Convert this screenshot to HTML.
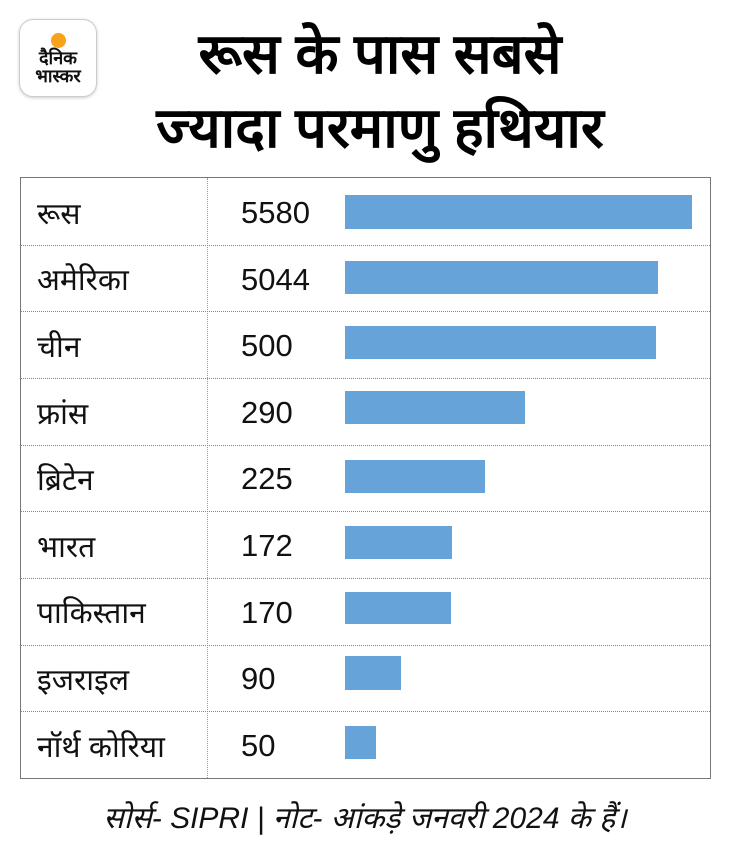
<!DOCTYPE html>
<html><head><meta charset="utf-8"><style>
body{margin:0;width:730px;height:850px;background:#fff;position:relative;overflow:hidden;font-family:"Liberation Sans","Noto Sans CJK SC",sans-serif;}
.logo{position:absolute;left:19px;top:19px;width:76px;height:76px;border:1px solid #ccc;border-radius:14px;box-shadow:0 1px 3px rgba(0,0,0,.2);background:#fff;}
.logo .sun{position:absolute;left:31px;top:13px;width:15px;height:15px;border-radius:50%;background:#f7a21b;}
.logo .t{position:absolute;left:0;width:76px;top:29px;text-align:center;font-weight:bold;font-size:18px;line-height:18px;color:#111;}
.title{position:absolute;left:100px;width:560px;text-align:center;font-weight:bold;font-size:56px;line-height:64px;color:#000;}
.tbl{position:absolute;left:20px;top:177px;width:689px;height:600px;border:1.5px solid #777;}
.vl{position:absolute;left:186px;top:0;height:100%;border-left:1px dotted #999;}
.hl{position:absolute;left:0;width:100%;border-top:1px dotted #888;}
.c{position:absolute;left:16px;font-size:30px;line-height:36px;color:#111;}
.n{position:absolute;left:220px;font-size:31px;line-height:36px;color:#111;}
.bar{position:absolute;left:324px;background:#66a3d9;}
.foot{position:absolute;left:0;width:730px;top:796px;text-align:center;font-style:italic;font-size:30px;color:#111;}
</style></head><body>
<div class="logo"><div class="sun"></div><div class="t">दैनिक<br>भास्कर</div></div>
<div class="title" style="top:22px">रूस के पास सबसे</div>
<div class="title" style="top:96px">ज्यादा परमाणु हथियार</div>
<div class="tbl">
<div class="vl"></div>
<div class="hl" style="top:66.7px"></div><div class="hl" style="top:133.4px"></div><div class="hl" style="top:200px"></div><div class="hl" style="top:266.7px"></div><div class="hl" style="top:333.4px"></div><div class="hl" style="top:400px"></div><div class="hl" style="top:466.7px"></div><div class="hl" style="top:533.4px"></div>
<div class="c" style="top:19px">रूस</div><div class="n" style="top:17px">5580</div><div class="bar" style="top:17px;width:347px;height:34px"></div>
<div class="c" style="top:85px">अमेरिका</div><div class="n" style="top:84px">5044</div><div class="bar" style="top:83px;width:313px;height:33px"></div>
<div class="c" style="top:152px">चीन</div><div class="n" style="top:150px">500</div><div class="bar" style="top:148px;width:311px;height:33px"></div>
<div class="c" style="top:219px">फ्रांस</div><div class="n" style="top:217px">290</div><div class="bar" style="top:213px;width:180px;height:33px"></div>
<div class="c" style="top:285px">ब्रिटेन</div><div class="n" style="top:283px">225</div><div class="bar" style="top:282px;width:140px;height:33px"></div>
<div class="c" style="top:352px">भारत</div><div class="n" style="top:350px">172</div><div class="bar" style="top:348px;width:107px;height:33px"></div>
<div class="c" style="top:418px">पाकिस्तान</div><div class="n" style="top:417px">170</div><div class="bar" style="top:414px;width:106px;height:32px"></div>
<div class="c" style="top:485px">इजराइल</div><div class="n" style="top:483px">90</div><div class="bar" style="top:478px;width:56px;height:34px"></div>
<div class="c" style="top:552px">नॉर्थ कोरिया</div><div class="n" style="top:550px">50</div><div class="bar" style="top:548px;width:31px;height:33px"></div>
</div>
<div class="foot">सोर्स- SIPRI | नोट- आंकड़े जनवरी 2024 के हैं।</div>
</body></html>
